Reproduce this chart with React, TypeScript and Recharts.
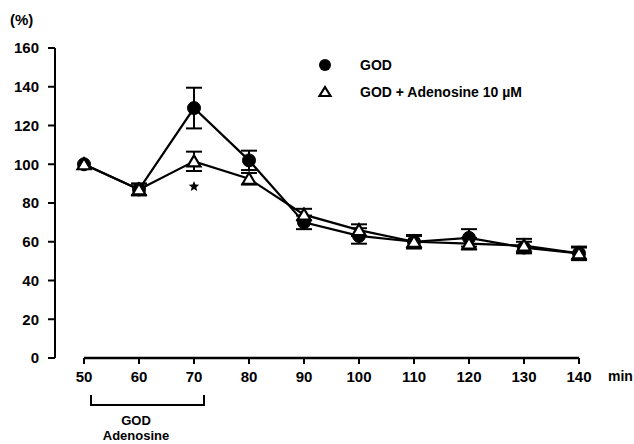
import {
  LineChart, Line, XAxis, YAxis, ErrorBar, Legend, ReferenceLine, ReferenceDot,
} from "recharts";

const minutes = [50, 60, 70, 80, 90, 100, 110, 120, 130, 140];
const god = [100, 87, 129, 102, 70, 63, 60, 62, 57, 54];
const godErr = [0, 3, 10.5, 5, 3.5, 4, 3, 4.5, 3, 3.5];
const godAdo = [100, 87, 101.5, 92.5, 74, 66, 60, 59, 58, 54];
const godAdoErr = [0, 3, 5, 3, 3, 3, 3.5, 3, 3.5, 3];
const yTicks = [0, 20, 40, 60, 80, 100, 120, 140, 160];
const seriesNames = ["GOD", "GOD + Adenosine 10 \u00b5M"];

const data = minutes.map((m, i) => ({
  min: m,
  god: god[i],
  godErr: godErr[i],
  godAdo: godAdo[i],
  godAdoErr: godAdoErr[i],
}));

const font = "Arial, 'Liberation Sans', sans-serif";
const tickStyle = { fontSize: 15, fontWeight: 700, fill: "#000", fontFamily: font };
const legendStyle = { fontSize: 14, fontWeight: 700, fill: "#000", fontFamily: font };

const Circle = (p: any) => <circle cx={p.cx} cy={p.cy} r={6.5} fill="#000" stroke="#000" />;

const Tri = (p: any) => {
  const { cx, cy } = p;
  return (
    <polygon
      points={`${cx},${cy - 6} ${cx - 6.5},${cy + 5} ${cx + 6.5},${cy + 5}`}
      fill="#fff" stroke="#000" strokeWidth={2.2} strokeLinejoin="miter"
    />
  );
};

const Star = (p: any) => {
  const { cx, cy } = p;
  const pts: string[] = [];
  for (let i = 0; i < 10; i++) {
    const r = i % 2 === 0 ? 5.5 : 2.4;
    const a = -Math.PI / 2 + (i * Math.PI) / 5;
    pts.push(`${cx + r * Math.cos(a)},${cy + r * Math.sin(a)}`);
  }
  return <polygon points={pts.join(" ")} fill="#000" />;
};

function LegendBox() {
  return (
    <svg width={240} height={50} style={{ overflow: "visible" }}>
      <circle cx={10} cy={10} r={6} fill="#000" />
      <text x={45} y={15} style={legendStyle}>{seriesNames[0]}</text>
      <polygon points="10,32 4.5,41 15.5,41" fill="#fff" stroke="#000" strokeWidth={2.2} />
      <text x={45} y={42} style={legendStyle}>{seriesNames[1]}</text>
    </svg>
  );
}

export default function App() {
  return (
    <div style={{ position: "absolute", left: 0, top: 0, width: 634, height: 444, background: "#fff", fontFamily: font }}>
      <LineChart width={634} height={444} data={data} margin={{ top: 48, right: 55, bottom: 56, left: 0 }}>
        <XAxis
          dataKey="min" type="number" domain={[50, 140]} ticks={minutes}
          padding={{ left: 29, right: 0 }} axisLine={false}
          tickLine={{ stroke: "#000", strokeWidth: 2 }} tickSize={6} tickMargin={7}
          tick={tickStyle} height={30} interval={0}
        />
        <YAxis
          type="number" domain={[0, 160]} ticks={yTicks} width={55}
          axisLine={{ stroke: "#000", strokeWidth: 2 }}
          tickLine={{ stroke: "#000", strokeWidth: 2 }} tickSize={7} tickMargin={9}
          tick={tickStyle} interval={0}
        />
        <ReferenceLine segment={[{ x: 50, y: 0 }, { x: 140, y: 0 }]} stroke="#000" strokeWidth={2.5} />
        <Legend
          layout="horizontal" verticalAlign="middle" align="center"
          content={() => <LegendBox />}
          wrapperStyle={{ left: 315, top: 55, width: 260, height: 50 }}
        />
        <Line
          dataKey="god" stroke="#000" strokeWidth={2.2} dot={<Circle />} activeDot={false}
          isAnimationActive={false}
        >
          <ErrorBar dataKey="godErr" direction="y" width={8} stroke="#000" strokeWidth={2} />
        </Line>
        <Line
          dataKey="godAdo" stroke="#000" strokeWidth={2.2} dot={<Tri />} activeDot={false}
          isAnimationActive={false}
        >
          <ErrorBar dataKey="godAdoErr" direction="y" width={8} stroke="#000" strokeWidth={2} />
        </Line>
        <ReferenceDot x={70} y={88.5} r={0} shape={<Star />} />
      </LineChart>
      <div style={{ position: "absolute", left: 10, top: 11, fontSize: 15, fontWeight: 700 }}>(%)</div>
      <div style={{ position: "absolute", left: 608, top: 368, fontSize: 14, fontWeight: 700 }}>min</div>
      <svg style={{ position: "absolute", left: 0, top: 0 }} width={634} height={444} pointerEvents="none">
        <polyline points="91,395 91,405 204,405 204,395" fill="none" stroke="#000" strokeWidth={2} />
        <text x={136} y={425} textAnchor="middle" style={{ ...legendStyle, fontSize: 13 }}>GOD</text>
        <text x={136} y={440} textAnchor="middle" style={{ ...legendStyle, fontSize: 13 }}>Adenosine</text>
      </svg>
    </div>
  );
}
